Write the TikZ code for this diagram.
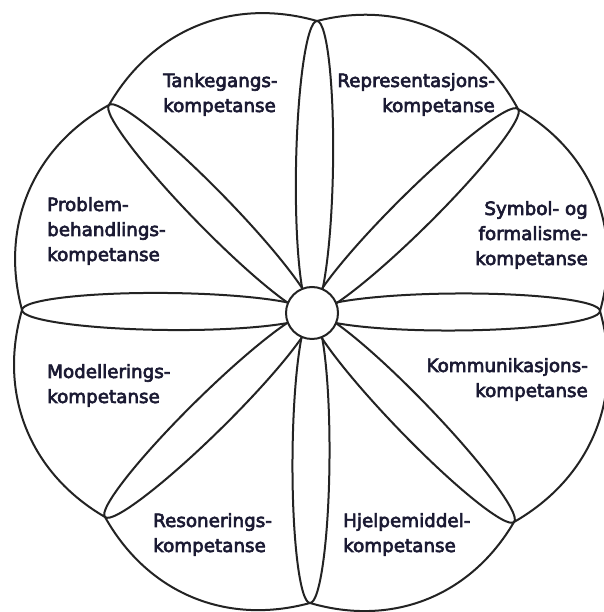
\documentclass[tikz,border=0pt]{standalone}
\usepackage{fontspec}
\setmainfont{DejaVu Sans}[FakeBold=3.5]
\usetikzlibrary{calc,shapes.geometric}
\definecolor{ink}{HTML}{232323}
\definecolor{labelc}{HTML}{1B1A33}
\begin{document}
\begin{tikzpicture}[x=1pt,y=1pt,
  outline/.style={draw=ink, line width=2pt, line join=round},
  petal/.style={ellipse, draw=ink, line width=2pt, inner sep=0pt, minimum height=37pt},
  hubstyle/.style={circle, draw=ink, fill=white, line width=2pt, inner sep=0pt, minimum size=52pt},
  lbl/.style={text=labelc, font=\fontsize{18.3}{25}\selectfont, inner sep=0pt}]
\fill[white] (0,0) rectangle (603,612);
\useasboundingbox (0,0) rectangle (603,612);

% centre of the flower and the tips of the eight petals
\coordinate (O)  at (312,299);
\coordinate (T1) at (317,591);
\coordinate (T2) at (518,503);
\coordinate (T3) at (600,301);
\coordinate (T4) at (514,90);
\coordinate (T5) at (310,9);
\coordinate (T6) at (105,95);
\coordinate (T7) at (22,302);
\coordinate (T8) at (109,507);

% petals: ellipses running from the centre out to each tip
\foreach \i in {1,...,8}{
  \path let \p1=($(T\i)-(O)$), \n1={atan2(\y1,\x1)}, \n2={veclen(\x1,\y1)} in
    node[petal, rotate=\n1, minimum width=\n2] (P\i) at ($(O)!0.5!(T\i)$) {};
}

% scalloped outer rim between neighbouring tips
\draw[outline] (T1) to[bend right=38] (T8) to[bend right=38] (T7)
  to[bend right=38] (T6) to[bend right=38] (T5) to[bend right=38] (T4)
  to[bend right=38] (T3) to[bend right=38] (T2) to[bend right=38] (T1);

% hub
\node[hubstyle] (hub) at (O) {};

% competence labels (anchored on the baseline of their last line)
\node[lbl, align=left,  anchor=base west] (tank) at (163,500) {Tankegangs-\\kompetanse};
\node[lbl, align=right, anchor=base east] (repr) at (495,500) {Representasjons-\\kompetanse};
\node[lbl, align=left,  anchor=base west] (prob) at (47,351) {Problem-\\behandlings-\\kompetanse};
\node[lbl, align=right, anchor=base east] (symb) at (588,347) {Symbol- og\\formalisme-\\kompetanse};
\node[lbl, align=left,  anchor=base west] (mod)  at (47,209) {Modellerings-\\kompetanse};
\node[lbl, align=right, anchor=base east] (komm) at (588,215) {Kommunikasjons-\\kompetanse};
\node[lbl, align=left,  anchor=base west] (reso) at (153,60) {Resonerings-\\kompetanse};
\node[lbl, align=left,  anchor=base west] (hjel) at (343,60) {Hjelpemiddel-\\kompetanse};
\end{tikzpicture}
\end{document}
